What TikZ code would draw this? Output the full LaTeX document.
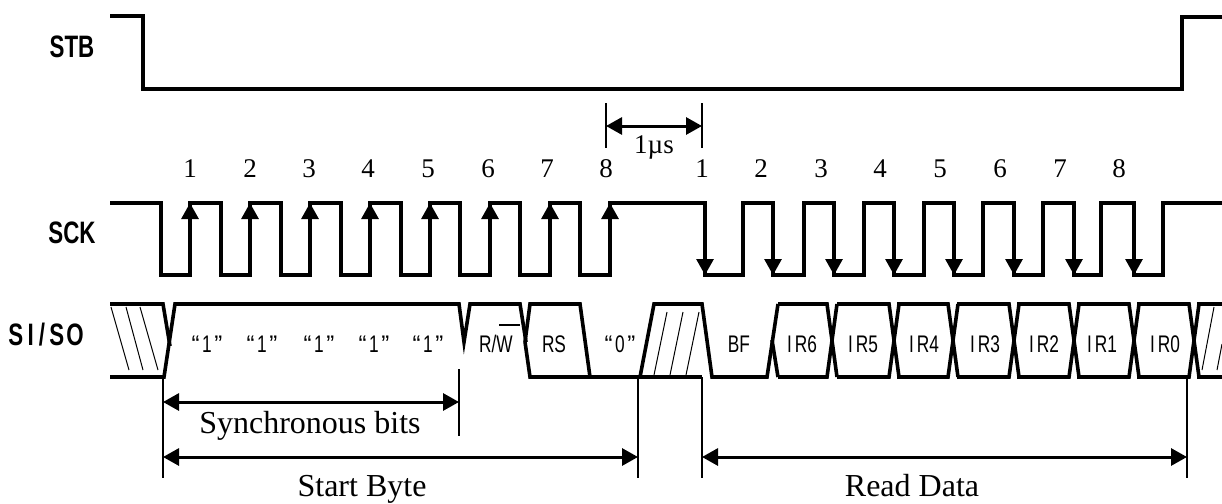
\documentclass[tikz,border=0pt]{standalone}
\usepackage{graphicx}
\usepackage{fontspec}
\setmainfont{Liberation Serif}
\newfontfamily\sigfont{Liberation Sans}
\newcommand{\narrowtext}[1]{\scalebox{0.72}[1]{#1}}
\newcommand{\quoted}[1]{“\kern2.5pt\narrowtext{#1}\kern2.5pt”}
\usetikzlibrary{arrows.meta}
\tikzset{
  wave/.style={line width=3.6pt, line join=miter},
  dim/.style={line width=2pt},
  tipped/.style={line width=3pt, -{Triangle[length=16pt,width=17pt]}},
  both/.style={line width=3pt, {Triangle[length=16pt,width=17pt]}-{Triangle[length=16pt,width=17pt]}},
  hatch/.style={line width=1pt},
  signame/.style={anchor=base, font=\sigfont\bfseries\fontsize{31}{31}\selectfont, inner sep=0pt},
  bitname/.style={anchor=base, font=\sigfont\fontsize{24}{24}\selectfont, inner sep=0pt},
  serifname/.style={anchor=base, font=\fontsize{32}{32}\selectfont, inner sep=0pt},
  countname/.style={anchor=base, font=\fontsize{27}{27}\selectfont, inner sep=0pt}
}
\begin{document}
\begin{tikzpicture}[x=1pt,y=-1pt]
\useasboundingbox (0,0) rectangle (1222,503);
\node[signame] (stb) at (72,57) {\narrowtext{STB}};
\node[signame] (sck) at (72,243) {\narrowtext{SCK}};
\node[signame] (sisi) at (46,345) {\narrowtext{S\kern6pt I\kern7pt/\kern6pt S\kern3pt O}};
\draw[wave] (110,16) -| (143,89) -| (1182,17) -- (1222,17);
\draw[wave] (110,203) -| (161,275) -| (190,203) -| (221,275) -| (250,203) -| (281,275) -| (310,203) -| (341,275) -| (370,203) -| (401,275) -| (430,203) -| (460,275) -| (490,203) -| (520,275) -| (550,203) -| (580,275) -| (610,203) -| (705,275) -| (743,203) -| (773,275) -| (804,203) -| (834,275) -| (864,203) -| (894,275) -| (924,203) -| (954,275) -| (983,203) -| (1014,275) -| (1043,203) -| (1074,275) -| (1101,203) -| (1134,275) -| (1163,203) -- (1222,203);
\foreach \x in {190,250,310,370,430,490,550,610} \draw[tipped] (\x,275) -- (\x,203);
\foreach \x in {705,773,834,894,954,1014,1074,1134} \draw[tipped] (\x,203) -- (\x,275);
\draw[wave] (110,304) -- (163,304) -- (170,346);
\draw[wave] (110,377) -- (164,377) -- (175,304) -- (459,304) -- (464,342) -- (470,304) -- (520,304) -- (526,342);
\draw[wave] (525,342) -- (530,304) -- (580,304) -- (590,377);
\draw[wave] (525,342) -- (530,377) -- (640,377) -- (654,304) -- (702,304) -- (712,377) -- (767,377) -- (778,304);
\draw[wave] (640,377) -- (702,377);
\draw[wave] (772,340) -- (778,377);
\foreach \a/\b in {778/827,837/889,897/948,957/1009,1017/1069,1077/1129,1137/1189} {
  \draw[wave] (\a,304) -- (\b,304) -- ++(10,73);
  \draw[wave] (\a,377) -- (\b,377) -- ++(10,-73);
}
\draw[wave] (1197,304) -- (1222,304);
\draw[wave] (1197,377) -- (1222,377);
\foreach \a/\b in {111/129,126/143,140/158} \draw[hatch] (\a,307) -- (\b,370);
\foreach \a/\b in {667/654,683/670,699/686} \draw[hatch] (\a,312) -- (\b,375);
\draw[hatch] (1214,307) -- (1202,370);
\draw[hatch] (1222,344) -- (1217,370);
\foreach \x/\n in {190/1,250/2,309/3,368/4,428/5,488/6,547/7,606/8,702/1,761/2,821/3,880/4,940/5,1000/6,1060/7,1119/8} \node[countname] (n\x) at (\x,177) {\n};
\foreach \x in {207,262,319,374,428} \node[bitname] (one\x) at (\x,352) {\quoted{1}};
\node[bitname] (rw) at (496,352) {\narrowtext{R/W}};
\draw[hatch, line width=1.5pt] (499,325) -- (520,325);
\node[bitname] (rs) at (554,352) {\narrowtext{RS}};
\node[bitname] (zero) at (620,352) {\quoted{0}};
\node[bitname] (bf) at (739,352) {\narrowtext{BF}};
\foreach \x/\n in {802/6,863/5,924/4,985/3,1044/2,1102/1,1165/0} \node[bitname] (ir\n) at (\x,352) {\narrowtext{I\kern4pt R\n}};
\coordinate (usl) at (606,103); \coordinate (usr) at (702,103);
\coordinate (usb) at (606,148); \coordinate (usc) at (702,148);
\draw[dim] (usl) -- (usb);
\draw[dim] (usr) -- (usc);
\coordinate (usa) at (606,126); \coordinate (usd) at (702,126);
\draw[both] (usa) -- (usd);
\node[countname] (us) at (654,153) {1µs};
\coordinate (a1) at (163,377); \coordinate (a2) at (163,478);
\coordinate (b1) at (459,369); \coordinate (b2) at (459,436);
\coordinate (c1) at (638,377); \coordinate (c2) at (638,478);
\coordinate (d1) at (702,377); \coordinate (d2) at (702,478);
\coordinate (e1) at (1187,377); \coordinate (e2) at (1187,478);
\foreach \p/\q in {a1/a2,b1/b2,c1/c2,d1/d2,e1/e2} \draw[dim] (\p) -- (\q);
\coordinate (synl) at (163,402); \coordinate (synr) at (459,402);
\coordinate (bytel) at (163,457); \coordinate (byter) at (638,457);
\coordinate (readl) at (702,457); \coordinate (readr) at (1187,457);
\draw[both] (synl) -- (synr);
\draw[both] (bytel) -- (byter);
\draw[both] (readl) -- (readr);
\node[serifname] (syn) at (310,433) {Synchronous bits};
\node[serifname] (byte) at (362,496) {Start Byte};
\node[serifname] (read) at (912,496) {Read Data};
\end{tikzpicture}
\end{document}
